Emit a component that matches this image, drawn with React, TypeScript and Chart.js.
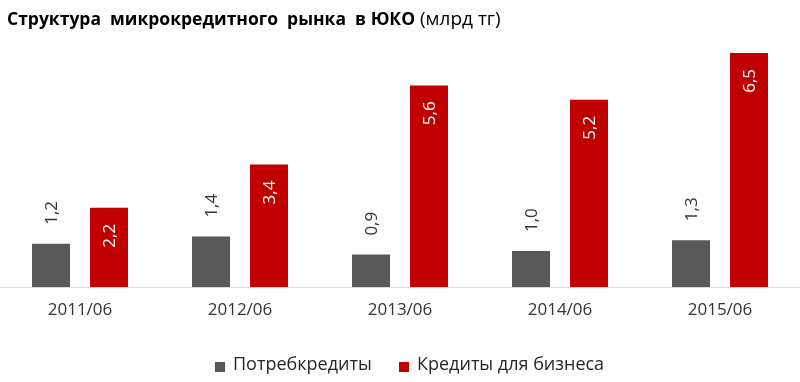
import React, { useEffect, useRef } from "react";
import { Chart, registerables } from "chart.js";

Chart.register(...registerables);

const categories = ["2011/06", "2012/06", "2013/06", "2014/06", "2015/06"];
const consumer = [1.2, 1.4, 0.9, 1.0, 1.3];
const business = [2.2, 3.4, 5.6, 5.2, 6.5];
const seriesNames = ["Потребкредиты", "Кредиты для бизнеса"];
const titleBold = "Структура  микрокредитного  рынка  в ЮКО";
const titleNormal = " (млрд тг)";

const GRAY = "#595959";
const RED = "#c00000";
const FONT = "'Open Sans', sans-serif";

const fmt = (v: number) => v.toFixed(1).replace(".", ",");

const overlayPlugin = {
  id: "overlay",
  afterDatasetsDraw(chart: any) {
    const ctx = chart.ctx;
    chart.data.datasets.forEach((ds: any, di: number) => {
      const meta = chart.getDatasetMeta(di);
      meta.data.forEach((bar: any, i: number) => {
        const txt = fmt(ds.data[i]);
        ctx.save();
        ctx.translate(bar.x + 1, di === 0 ? bar.y - 19 : bar.y + 16);
        ctx.rotate(-Math.PI / 2);
        ctx.font = `17px ${FONT}`;
        ctx.fillStyle = di === 0 ? "#333333" : "#ffffff";
        ctx.textAlign = di === 0 ? "left" : "right";
        ctx.textBaseline = "middle";
        ctx.fillText(txt, 0, 0);
        ctx.restore();
      });
    });
  },
  afterDraw(chart: any) {
    const ctx = chart.ctx;
    ctx.save();
    // title
    ctx.textBaseline = "middle";
    ctx.textAlign = "left";
    ctx.fillStyle = "#000000";
    ctx.font = `bold 17.5px ${FONT}`;
    ctx.fillText(titleBold, 7, 20);
    const w = ctx.measureText(titleBold).width;
    ctx.font = `19px ${FONT}`;
    ctx.fillText(titleNormal, 7 + w, 20);
    // legend
    ctx.font = `18px ${FONT}`;
    ctx.fillStyle = GRAY;
    ctx.fillRect(215, 362, 10, 10);
    ctx.fillStyle = "#262626";
    ctx.fillText(seriesNames[0], 233, 365);
    ctx.fillStyle = RED;
    ctx.fillRect(399, 362, 10, 10);
    ctx.fillStyle = "#262626";
    ctx.fillText(seriesNames[1], 417, 365);
    ctx.restore();
  },
};

export default function App() {
  const ref = useRef<HTMLCanvasElement | null>(null);
  useEffect(() => {
    document.body.style.margin = "0";
    const chart = new Chart(ref.current as HTMLCanvasElement, {
      type: "bar",
      data: {
        labels: categories,
        datasets: [
          {
            label: seriesNames[0],
            data: consumer,
            backgroundColor: GRAY,
            categoryPercentage: 0.725,
            barPercentage: 0.655,
          },
          {
            label: seriesNames[1],
            data: business,
            backgroundColor: RED,
            categoryPercentage: 0.725,
            barPercentage: 0.655,
          },
        ],
      },
      options: {
        animation: false,
        responsive: false,
        maintainAspectRatio: false,
        layout: { padding: { top: 35, left: 0, right: 0, bottom: 0 } },
        plugins: {
          legend: { display: false },
          title: { display: false },
          tooltip: { enabled: false },
        },
        scales: {
          x: {
            grid: { display: false, drawTicks: false },
            border: { display: true, color: "#d9d9d9", width: 1 },
            ticks: {
              color: "#333333",
              font: { family: FONT, size: 17 },
              padding: 13,
              maxRotation: 0,
            },
            afterFit(scale: any) {
              scale.height = 95;
            },
          },
          y: {
            display: false,
            min: 0,
            max: 7,
          },
        },
      },
      plugins: [overlayPlugin],
    });
    return () => chart.destroy();
  }, []);
  return (
    <div style={{ width: 800, height: 382 }}>
      <canvas ref={ref} width={800} height={382} style={{ display: "block" }} />
    </div>
  );
}
